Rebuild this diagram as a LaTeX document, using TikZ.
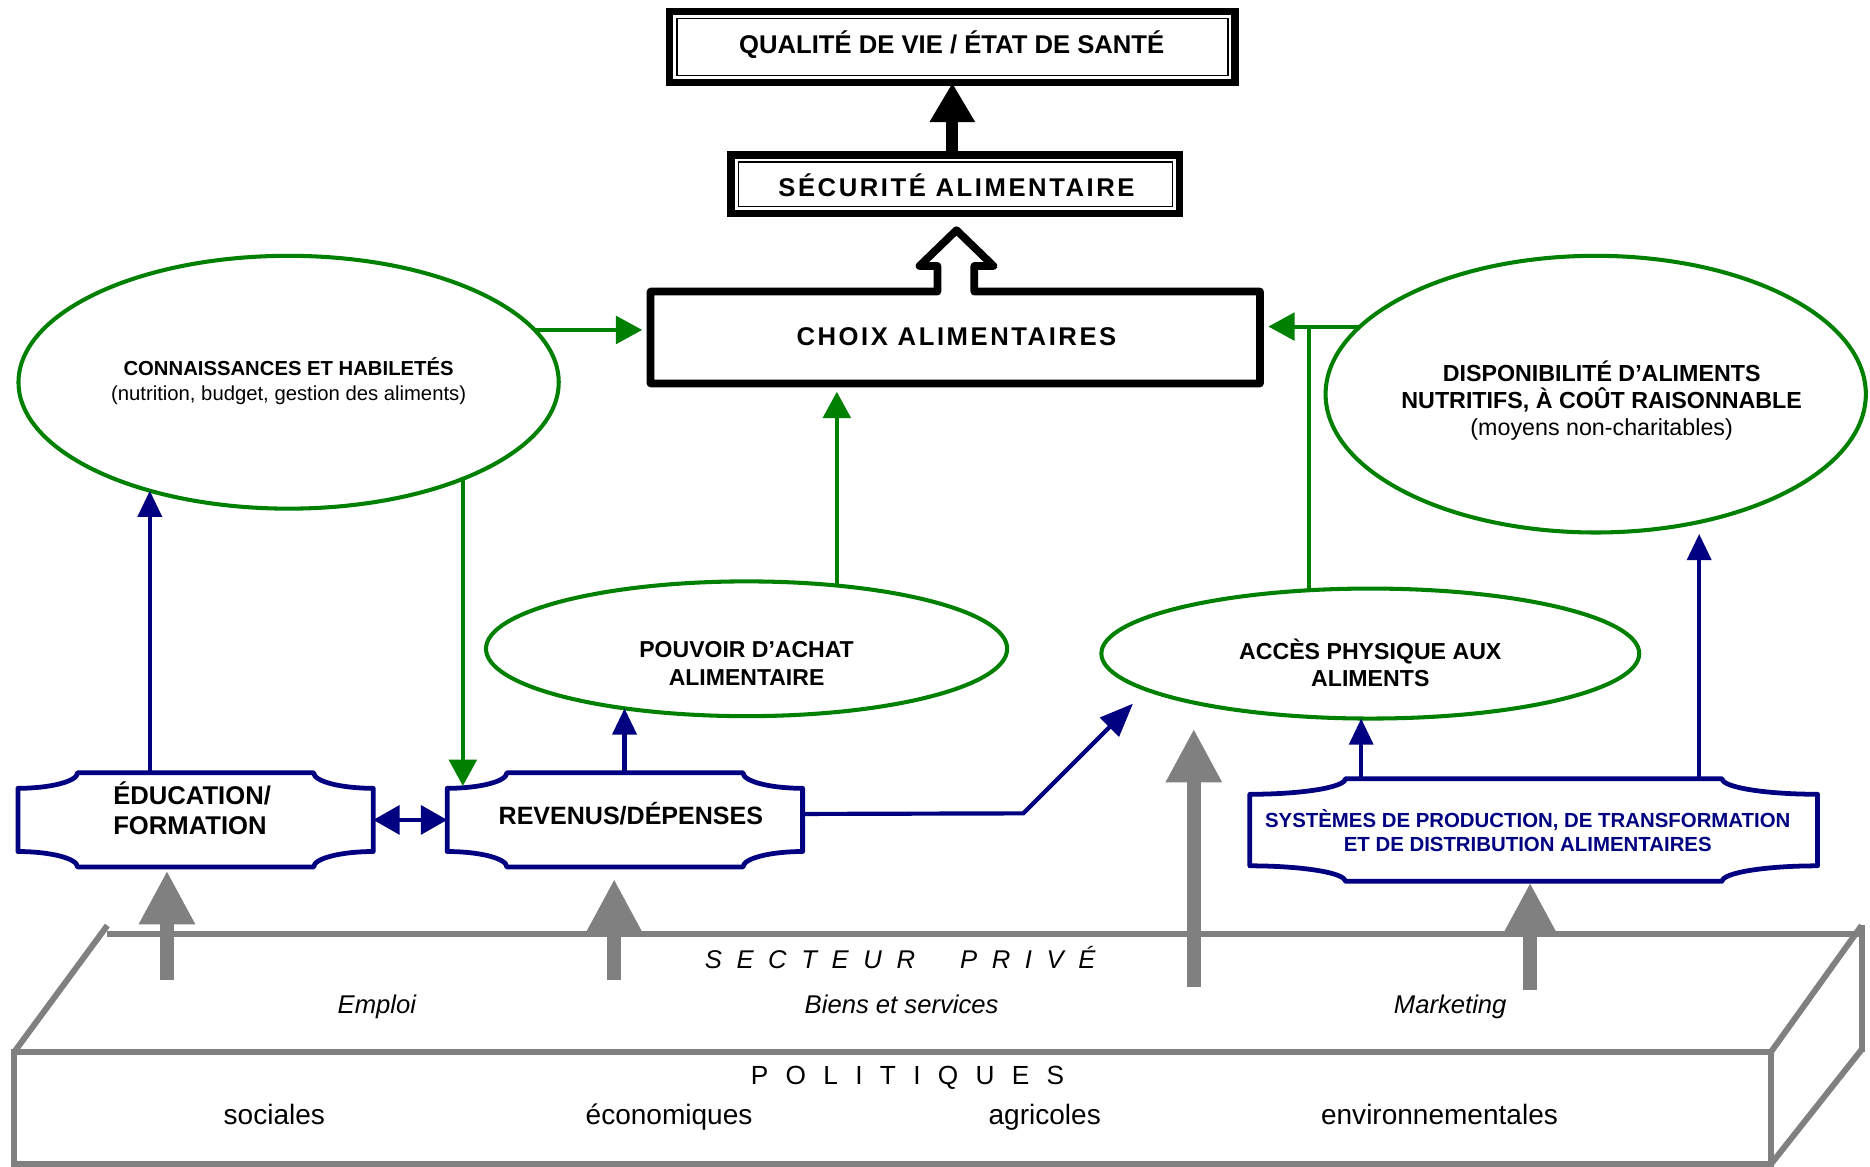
\documentclass[tikz,border=0pt]{standalone}
\usepackage{fontspec}
\setmainfont{Liberation Sans}
\usetikzlibrary{arrows.meta,calc,shapes.geometric}
\definecolor{vert}{RGB}{0,128,0}
\definecolor{marine}{RGB}{0,0,128}
\definecolor{gris}{RGB}{128,128,128}
\newcommand\fs[2]{\fontsize{#1pt}{#2pt}\selectfont}
\newcommand\plaque[3]{%
 \draw[plaq] ($(#1.north west)+(#2,0)$) -- ($(#1.north east)+(-#2,0)$)
  .. controls ($(#1.north east)+(-#2,0.55*#3)$) and ($(#1.north east)+(-0.55*#2,#3)$) .. ($(#1.north east)+(0,#3)$)
  -- ($(#1.south east)+(0,-#3)$)
  .. controls ($(#1.south east)+(-0.55*#2,-#3)$) and ($(#1.south east)+(-#2,-0.55*#3)$) .. ($(#1.south east)+(-#2,0)$)
  -- ($(#1.south west)+(#2,0)$)
  .. controls ($(#1.south west)+(#2,-0.55*#3)$) and ($(#1.south west)+(0.55*#2,-#3)$) .. ($(#1.south west)+(0,-#3)$)
  -- ($(#1.north west)+(0,#3)$)
  .. controls ($(#1.north west)+(0.55*#2,#3)$) and ($(#1.north west)+(#2,0.55*#3)$) .. cycle;}
\newcommand\dblbox[1]{%
 \draw[line width=6pt] (#1.north west) rectangle (#1.south east);
 \draw[line width=1.2pt] ($(#1.north west)+(6,6)$) rectangle ($(#1.south east)+(-6,-6)$);}
\begin{document}
\begin{tikzpicture}[x=1pt,y=-1pt,
 every node/.style={inner sep=0pt,outer sep=0pt},
 plaq/.style={draw=marine,line width=4pt,line join=round},
 ell/.style={ellipse,draw=vert,line width=3.4pt},
 garrow/.style={draw=vert,line width=3.4pt,-{Triangle[length=22pt,width=23pt]}},
 barrow/.style={draw=marine,line width=3.5pt,-{Triangle[length=22pt,width=20pt]}},
 grarrow/.style={draw=gris,line width=12pt,-{Triangle[length=45pt,width=44pt]}},
 slab/.style={draw=gris,line width=5pt},
 lbl/.style={anchor=base,text=black}]
\useasboundingbox (0,0) rectangle (1568,978.5);

% ---- slab (politiques / secteur privé)
\draw[slab] (90,783) -- (1561,783);
\draw[slab] (90,776) -- (12,882);
\draw[slab] (12,882) rectangle (1485,976);
\draw[slab] (1561,776) -- (1485,882);
\draw[slab] (1561,776) -- (1561,882);
\draw[slab] (1561,880) -- (1485,976);
\node[lbl,anchor=base west,font=\fs{21.5}{26}\itshape\addfontfeature{LetterSpace=57}] (secteur) at (591,812) {SECTEUR};
\node[lbl,anchor=base west,font=\fs{21.5}{26}\itshape\addfontfeature{LetterSpace=57}] (prive) at (805,812) {PRIVÉ};
\node[lbl,font=\fs{21.5}{26}\itshape] (emploi) at (316,850) {Emploi};
\node[lbl,font=\fs{21.5}{26}\itshape] (biens) at (756,850) {Biens et services};
\node[lbl,font=\fs{21.5}{26}\itshape] (marketing) at (1216,850) {Marketing};
\node[lbl,font=\fs{22}{26}\addfontfeature{LetterSpace=66}] (politiques) at (761,909) {POLITIQUES};
\node[lbl,font=\fs{23.5}{28}] (sociales) at (230,943) {sociales};
\node[lbl,font=\fs{23.5}{28}] (economiques) at (561,943) {économiques};
\node[lbl,font=\fs{23.5}{28}] (agricoles) at (876,943) {agricoles};
\node[lbl,font=\fs{23.5}{28}] (environ) at (1207,943) {environnementales};

% ---- top boxes
\node[minimum width=474pt,minimum height=60pt] (qual) at (798.5,39.5) {};
\node[minimum width=376pt,minimum height=49pt] (secu) at (801,154.5) {};
\node[minimum width=511pt,minimum height=77pt,outer sep=7pt] (choix) at (801,283) {};
\dblbox{qual}
\dblbox{secu}
\node[lbl,font=\fs{21.5}{25}\bfseries] (qualtxt) at (798,44.7) {QUALITÉ DE VIE / ÉTAT DE SANTÉ};
\node[lbl,font=\fs{21.5}{25}\bfseries\addfontfeature{LetterSpace=10}] (secutxt) at (802,164.7) {SÉCURITÉ ALIMENTAIRE};
\draw[line width=10pt,-{Triangle[length=33pt,width=36pt]}] (qual.south |- secu.north) -- (qual.south);
% choix box with hollow arrow
\draw[line width=6.5pt,line join=round]
 ($(choix.north)+(-15,7)$) -- ($(choix.north west)+(7,7)$) -- ($(choix.south west)+(7,-7)$)
 -- ($(choix.south east)+(-7,-7)$) -- ($(choix.north east)+(-7,7)$) -- ($(choix.north)+(16,7)$)
 -- ($(choix.north)+(16,-14.5)$) -- ($(choix.north)+(32,-14.5)$) -- ($(choix.north)+(1,-44.5)$)
 -- ($(choix.north)+(-30,-14.5)$) -- ($(choix.north)+(-15,-14.5)$) -- cycle;
\node[lbl,font=\fs{21.5}{25}\bfseries\addfontfeature{LetterSpace=10}] (choixtxt) at (802,289.7) {CHOIX ALIMENTAIRES};

% ---- ellipses
\node[ell,minimum width=453pt,minimum height=212pt] (conn) at (242,320.5) {};
\node[ell,minimum width=453pt,minimum height=232pt] (disp) at (1338,330.5) {};
\node[ell,minimum width=437pt,minimum height=113pt] (pouv) at (626,544) {};
\node[ell,minimum width=451pt,minimum height=109pt] (acces) at (1149,548) {};
\node[lbl,font=\fs{17}{21}\bfseries] (conn1) at (242,315) {CONNAISSANCES ET HABILETÉS};
\node[lbl,font=\fs{17}{21}] (conn2) at (242,335.5) {(nutrition, budget, gestion des aliments)};
\node[lbl,font=\fs{19.5}{23}\bfseries] (disp1) at (1343,320) {DISPONIBILITÉ D’ALIMENTS};
\node[lbl,font=\fs{19.5}{23}\bfseries] (disp2) at (1343,342.5) {NUTRITIFS, À COÛT RAISONNABLE};
\node[lbl,font=\fs{19.5}{23}] (disp3) at (1343,365) {(moyens non-charitables)};
\node[lbl,font=\fs{19.3}{23}\bfseries] (pouv1) at (626,551) {POUVOIR D’ACHAT};
\node[lbl,font=\fs{19.3}{23}\bfseries] (pouv2) at (626,575) {ALIMENTAIRE};
\node[lbl,font=\fs{19.4}{23}\bfseries] (acces1) at (1149,553) {ACCÈS PHYSIQUE AUX};
\node[lbl,font=\fs{19.4}{23}\bfseries] (acces2) at (1149,576) {ALIMENTS};

% ---- plaques
\node[minimum width=298pt,minimum height=79pt] (edu) at (164,687.5) {};
\node[minimum width=298pt,minimum height=79pt] (rev) at (524,687.5) {};
\node[minimum width=476pt,minimum height=86pt] (sys) at (1286,696) {};
\plaque{edu}{50}{13}
\plaque{rev}{50}{13}
\plaque{sys}{80}{13}
\node[lbl,anchor=base west,font=\fs{21.5}{25}\bfseries] (edu1) at (95,674.7) {ÉDUCATION/};
\node[lbl,anchor=base west,font=\fs{21.5}{25}\bfseries] (edu2) at (95,699.7) {FORMATION};
\node[lbl,font=\fs{21}{25}\bfseries] (revtxt) at (529,691.5) {REVENUS/DÉPENSES};
\node[lbl,text=marine,font=\fs{17.1}{20}\bfseries] (sys1) at (1281,694) {SYSTÈMES DE PRODUCTION, DE TRANSFORMATION};
\node[lbl,text=marine,font=\fs{17.1}{20}\bfseries] (sys2) at (1281,714) {ET DE DISTRIBUTION ALIMENTAIRES};

% ---- green connectors
\draw[garrow] (conn.12.6) -- (conn.12.6 -| choix.west);
\draw[garrow] (disp.164.2) -- (disp.164.2 -| choix.east);
\draw[draw=vert,line width=3.4pt] (acces.134.1) -- (acces.134.1 |- disp.164.2);
\draw[garrow] (pouv.35.7) -- (pouv.35.7 |- choix.south);
\draw[garrow] (conn.-29) -- ($(conn.-29 |- rev.north)+(0,11)$);

% ---- blue connectors
\draw[barrow] (conn.218 |- edu.north) -- (conn.218);
\draw[barrow] (pouv.206.3 |- rev.north) -- (pouv.206.3);
\draw[barrow,{Triangle[length=22pt,width=24pt]}-{Triangle[length=22pt,width=24pt]}] (edu.east) -- (rev.west);
\coordinate (bend) at (858,682);
\coordinate (diagend) at (950,590);
\draw[barrow,-{Triangle[length=28pt,width=22pt]}] ($(rev.east)+(0,-5)$) -- (bend) -- (diagend);
\draw[barrow] (acces.262.9 |- sys.north) -- (acces.262.9);
\draw[barrow] (disp.-51.4 |- sys.north) -- ($(disp.-51.4)+(0,10)$);

% ---- grey arrows
\coordinate (g1) at (140,822);
\coordinate (g2) at (515,822);
\coordinate (g3) at (1001,828);
\coordinate (g3t) at (1001,611);
\coordinate (g4) at (1283,830);
\draw[grarrow] (g1) -- ($(g1 |- edu.south)+(0,3)$);
\draw[grarrow] (g2) -- ($(g2 |- rev.south)+(0,10)$);
\draw[grarrow] (g3) -- (g3t);
\draw[grarrow] (g4) -- ($(g4 |- sys.south)+(0,1)$);
\end{tikzpicture}
\end{document}
